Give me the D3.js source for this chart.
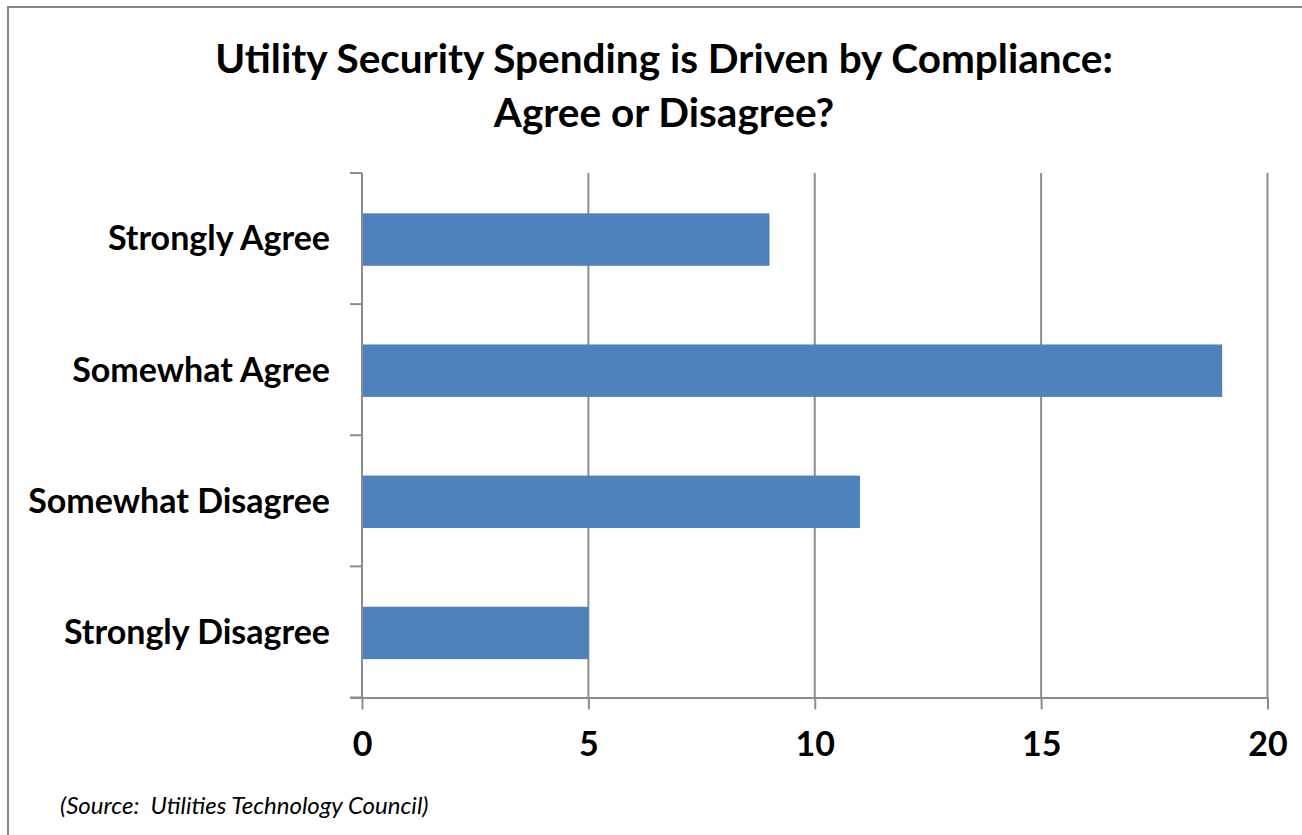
<!DOCTYPE html>
<html>
<head>
<meta charset="utf-8">
<script src="https://cdn.jsdelivr.net/npm/d3@7"></script>
<style>
  html, body { margin: 0; padding: 0; background: #fff; }
  svg { display: block; }
  text { font-family: Lato, "Liberation Sans", sans-serif; fill: #000; }
</style>
</head>
<body>
<svg id="chart" width="1302" height="835"></svg>
<script>
const categories = ["Strongly Agree", "Somewhat Agree", "Somewhat Disagree", "Strongly Disagree"];
const values = [9, 19, 11, 5];
const xTicks = [0, 5, 10, 15, 20];
const titleLines = ["Utility Security Spending is Driven by Compliance:", "Agree or Disagree?"];
const sourceText = "(Source:  Utilities Technology Council)";

const svg = d3.select("#chart");
const W = 1302, H = 835;

// outer border
svg.append("rect")
  .attr("x", 8).attr("y", 7).attr("width", W + 4).attr("height", H + 4)
  .attr("fill", "#fff").attr("stroke", "#888").attr("stroke-width", 2);

const pLeft = 362, pRight = 1267.5, pTop = 173, pBottom = 697.5;

const x = d3.scaleLinear().domain([0, 20]).range([pLeft, pRight]);
const y = d3.scaleBand().domain(categories).range([pTop, pBottom]).padding(0);

const gridColor = "#8c8c8c";

// vertical gridlines
svg.append("g").selectAll("line").data(xTicks.filter(d => d > 0)).join("line")
  .attr("x1", d => x(d)).attr("x2", d => x(d))
  .attr("y1", pTop).attr("y2", pBottom)
  .attr("stroke", gridColor).attr("stroke-width", 2);

// bars
const barH = y.bandwidth() * 0.4;
svg.append("g").selectAll("rect").data(categories).join("rect")
  .attr("x", x(0))
  .attr("y", d => y(d) + y.bandwidth() / 2 - barH / 2 + 1)
  .attr("width", (d, i) => x(values[i]) - x(0))
  .attr("height", barH)
  .attr("fill", "#4f81bd");

// x axis
const xAxis = d3.axisBottom(x).tickValues(xTicks).tickSize(12).tickPadding(22).tickFormat(d3.format("d"));
const gx = svg.append("g").attr("transform", `translate(0,${pBottom})`).call(xAxis);
gx.select(".domain").attr("d", `M${pLeft - 12},0.5H${pRight}`).attr("stroke", gridColor).attr("stroke-width", 2);
gx.selectAll(".tick line").attr("stroke", gridColor).attr("stroke-width", 2);
gx.selectAll(".tick text").attr("font-size", 34).attr("font-weight", 700).attr("fill", "#000")
  .style("font-family", "Lato, sans-serif");

// y axis
const yTickPos = d3.range(categories.length + 1).map(i => pTop + i * y.step());
svg.append("line").attr("x1", pLeft).attr("x2", pLeft).attr("y1", pTop).attr("y2", pBottom)
  .attr("stroke", gridColor).attr("stroke-width", 2);
svg.append("g").selectAll("line").data(yTickPos).join("line")
  .attr("x1", pLeft - 12).attr("x2", pLeft).attr("y1", d => d).attr("y2", d => d)
  .attr("stroke", gridColor).attr("stroke-width", 2);

svg.append("g").selectAll("text").data(categories).join("text")
  .attr("x", 330)
  .attr("y", d => y(d) + y.bandwidth() / 2)
  .attr("dy", "0.35em")
  .attr("text-anchor", "end")
  .attr("font-size", 34)
  .attr("font-weight", 700)
  .text(d => d);

// title
svg.append("g").selectAll("text").data(titleLines).join("text")
  .attr("x", 664)
  .attr("y", (d, i) => 73 + i * 54)
  .attr("text-anchor", "middle")
  .attr("font-size", 40.5)
  .attr("font-weight", 700)
  .text(d => d);

// source
svg.append("text")
  .attr("x", 60).attr("y", 814)
  .attr("font-size", 24)
  .attr("font-style", "italic")
  .attr("fill", "#000")
  .style("white-space", "pre")
  .text(sourceText);
</script>
</body>
</html>
